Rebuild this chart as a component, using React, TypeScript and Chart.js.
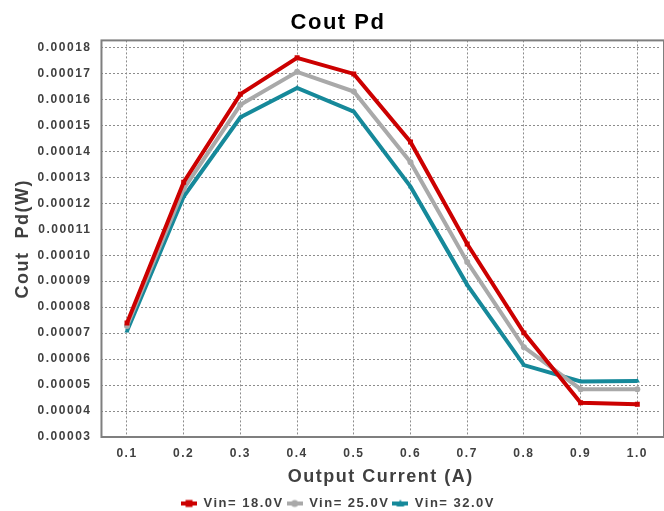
import React, { useEffect, useRef } from "react";
import { Chart, registerables } from "chart.js";

Chart.register(...registerables);

const outputCurrent = [0.1, 0.2, 0.3, 0.4, 0.5, 0.6, 0.7, 0.8, 0.9, 1.0];
const vin18 = [0.0000739, 0.0001281, 0.000162, 0.000176, 0.0001698, 0.0001436, 0.0001043, 0.0000701, 0.0000432, 0.0000426];
const vin25 = [0.0000727, 0.0001255, 0.0001579, 0.0001706, 0.000163, 0.0001358, 0.0000974, 0.0000646, 0.0000484, 0.0000484];
const vin32 = [0.0000708, 0.0001226, 0.0001531, 0.0001644, 0.0001553, 0.0001264, 0.0000886, 0.0000577, 0.0000514, 0.0000516];
const seriesLabels = ["Vin= 18.0V", "Vin= 25.0V", "Vin= 32.0V"];
const seriesColors = ["#CC0000", "#A9A9A9", "#16899A"];
const seriesMarkers = ["rect", "circle", "triangle"];
const yTickValues = [0.00003, 0.00004, 0.00005, 0.00006, 0.00007, 0.00008, 0.00009, 0.0001, 0.00011, 0.00012, 0.00013, 0.00014, 0.00015, 0.00016, 0.00017, 0.00018];
const xTickValues = [0.1, 0.2, 0.3, 0.4, 0.5, 0.6, 0.7, 0.8, 0.9, 1.0];

const FONT = "'Liberation Sans', Arial, sans-serif";
const TEXT_GRAY = "#404040";

function legendIcon(color: string, marker: string): HTMLCanvasElement {
  const c = document.createElement("canvas");
  c.width = 16;
  c.height = 10;
  const g = c.getContext("2d")!;
  g.strokeStyle = color;
  g.lineWidth = 4;
  g.beginPath();
  g.moveTo(0, 5);
  g.lineTo(16, 5);
  g.stroke();
  g.fillStyle = color;
  if (marker === "rect") g.fillRect(4.5, 1.5, 7, 7);
  else if (marker === "circle") {
    g.beginPath();
    g.arc(8, 5, 3.5, 0, Math.PI * 2);
    g.fill();
  } else {
    g.beginPath();
    g.moveTo(8, 1);
    g.lineTo(12, 8);
    g.lineTo(4, 8);
    g.closePath();
    g.fill();
  }
  return c;
}

const spacingPlugin = {
  id: "letterSpacingAndFrame",
  beforeUpdate(chart: any) {
    chart.ctx.letterSpacing = "1.5px";
  },
  beforeLayout(chart: any) {
    chart.ctx.letterSpacing = "1.5px";
  },
  beforeDraw(chart: any) {
    chart.ctx.letterSpacing = "1.5px";
  },
  beforeDatasetsDraw(chart: any) {
    const { ctx, chartArea } = chart;
    ctx.save();
    ctx.strokeStyle = "#7f7f7f";
    ctx.lineWidth = 2;
    ctx.strokeRect(chartArea.left, chartArea.top, chartArea.right - chartArea.left + 4, chartArea.bottom - chartArea.top);
    ctx.restore();
  },
};

export default function App() {
  const ref = useRef<HTMLCanvasElement | null>(null);

  useEffect(() => {
    document.body.style.margin = "0";
    const canvas = ref.current;
    if (!canvas) return;
    const dataSets = [vin18, vin25, vin32].map((vals, i) => ({
      label: seriesLabels[i],
      data: outputCurrent.map((x, j) => ({ x, y: vals[j] })),
      borderColor: seriesColors[i],
      backgroundColor: seriesColors[i],
      borderWidth: 4,
      pointStyle: seriesMarkers[i] as any,
      pointRadius: i === 0 ? 3.5 : 3,
      pointBorderWidth: 0,
      pointBackgroundColor: seriesColors[i],
      tension: 0,
    }));
    const icons = seriesLabels.map((_, i) => legendIcon(seriesColors[i], seriesMarkers[i]));

    const chart = new Chart(canvas, {
      type: "line",
      data: { datasets: dataSets },
      plugins: [spacingPlugin],
      options: {
        animation: false,
        responsive: false,
        devicePixelRatio: 1,
        layout: { padding: { left: 12, right: 0, top: 0, bottom: -9 } },
        plugins: {
          title: {
            display: true,
            text: "Cout Pd",
            color: "#000000",
            font: { family: FONT, size: 22, weight: "bold" },
            padding: { top: 10, bottom: 4 },
          },
          legend: {
            display: true,
            position: "bottom",
            labels: {
              usePointStyle: true,
              pointStyleWidth: 16,
              boxHeight: 10,
              padding: 3,
              color: TEXT_GRAY,
              font: { family: FONT, size: 13, weight: "bold" },
              generateLabels: (ch: any) =>
                ch.data.datasets.map((ds: any, i: number) => ({
                  text: ds.label,
                  fillStyle: seriesColors[i],
                  strokeStyle: seriesColors[i],
                  lineWidth: 0,
                  pointStyle: icons[i],
                  hidden: false,
                  datasetIndex: i,
                  fontColor: TEXT_GRAY,
                })),
            },
          },
          tooltip: { enabled: false },
        },
        scales: {
          x: {
            type: "linear",
            min: 0.055,
            max: 1.04,
            afterBuildTicks: (axis: any) => {
              axis.ticks = xTickValues.map((v) => ({ value: v }));
            },
            ticks: {
              color: TEXT_GRAY,
              font: { family: FONT, size: 12, weight: "bold" },
              padding: 9,
              maxRotation: 0,
              autoSkip: false,
              callback: (v: any) => Number(v).toFixed(1),
            },
            grid: { color: "#8c8c8c", lineWidth: 1, drawTicks: false },
            border: { display: false, dash: [2, 2] },
            title: {
              display: true,
              text: "Output Current (A)",
              color: TEXT_GRAY,
              font: { family: FONT, size: 18, weight: "bold" },
              padding: { top: -3, bottom: 6 },
            },
          },
          y: {
            type: "linear",
            min: 0.00003,
            max: 0.0001827,
            afterBuildTicks: (axis: any) => {
              axis.ticks = yTickValues.map((v) => ({ value: v }));
            },
            ticks: {
              color: TEXT_GRAY,
              font: { family: FONT, size: 12, weight: "bold" },
              padding: 10,
              autoSkip: false,
              callback: (v: any) => Number(v).toFixed(5),
            },
            grid: { color: "#8c8c8c", lineWidth: 1, drawTicks: false },
            border: { display: false, dash: [2, 2] },
            title: {
              display: true,
              text: "Cout  Pd(W)",
              color: TEXT_GRAY,
              font: { family: FONT, size: 18, weight: "bold" },
              padding: { top: 0, bottom: -6 },
            },
          },
        },
      },
    });
    return () => chart.destroy();
  }, []);

  return (
    <div style={{ width: 664, height: 511, position: "relative" }}>
      <canvas ref={ref} width={664} height={511} />
    </div>
  );
}
